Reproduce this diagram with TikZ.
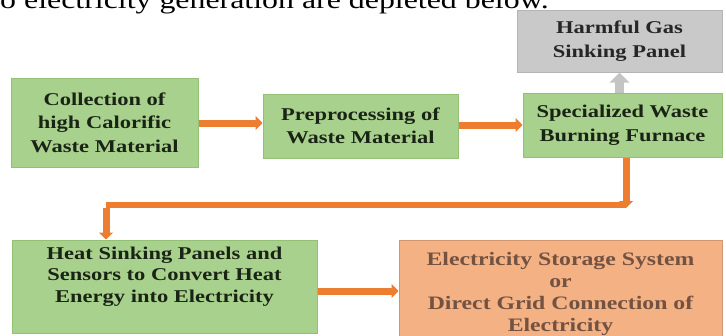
\documentclass[tikz,border=0pt]{standalone}
\usepackage{fontspec}
\setmainfont{Liberation Serif}[FakeStretch=1.25]
\usetikzlibrary{arrows.meta}
\definecolor{boxgreen}{HTML}{A9D18E}
\definecolor{boxgreenline}{HTML}{93C072}
\definecolor{greentext}{HTML}{1A2415}
\definecolor{boxgray}{HTML}{C9C9C9}
\definecolor{boxgrayline}{HTML}{B4B4B4}
\definecolor{arroworange}{HTML}{ED7D31}
\definecolor{boxsalmon}{HTML}{F4B183}
\definecolor{salmontext}{HTML}{735242}
\definecolor{arrowgray}{HTML}{C4C4C4}
\begin{document}
\begin{tikzpicture}[x=1pt,y=-1pt,
  boxbase/.style={align=center, inner sep=0pt, line width=1pt,
    font=\bfseries\fontsize{18}{23.5}\selectfont},
  greenbox/.style={boxbase, draw=boxgreenline, fill=boxgreen, text=greentext},
  graybox/.style={boxbase, draw=boxgrayline, fill=boxgray, text=black!85},
  salmonbox/.style={boxbase, draw=boxsalmon!85!black, fill=boxsalmon, text=salmontext,
    font=\bfseries\fontsize{19}{22}\selectfont},
  flow/.style={draw=arroworange, line width=7pt, -{Triangle[width=14pt,length=7pt]}},
  flowline/.style={draw=arroworange, line width=6pt},
  upflow/.style={draw=arrowgray, line width=9pt, -{Triangle[width=19pt,length=10pt]}}
]
\useasboundingbox (0,0) rectangle (726,335);

\node[anchor=base west, inner sep=0pt, font=\fontsize{25.5}{30}\selectfont] (intro) at (0,8)
  {o electricity generation are depleted below.};

\node[greenbox, minimum width=187, minimum height=89] (coll) at (104.5,122.5)
  {Collection of\\high Calorific\\Waste Material};
\node[greenbox, minimum width=195, minimum height=64] (prep) at (360.5,126)
  {Preprocessing of\\Waste Material};
\node[greenbox, minimum width=199, minimum height=64] (furn) at (622.5,125)
  {Specialized Waste\\Burning Furnace};
\node[graybox, minimum width=205, minimum height=62] (gas) at (619.5,41)
  {Harmful Gas\\Sinking Panel};
\node[greenbox, minimum width=305, minimum height=93, text depth=24pt,
  font=\bfseries\fontsize{18}{21.5}\selectfont] (heat) at (164.5,286.5)
  {Heat Sinking Panels and\\Sensors to Convert Heat\\Energy into Electricity};
\node[salmonbox, minimum width=323, minimum height=108] (elec) at (560.5,294)
  {Electricity Storage System\\or\\Direct Grid Connection of\\Electricity};

\coordinate (c1) at (626,208);
\coordinate (c2) at (106,205);

\draw[flow] (coll.east |- 0,123) -- (prep.west |- 0,123);
\draw[flow] (prep.east |- 0,125) -- (furn.west |- 0,125);
\draw[upflow] (furn.north -| gas.south) -- (gas.south);
\draw[flowline] (c1 |- 0,205) -- (c2);
\draw[flow] (furn.south -| c1) -- (c1);
\draw[flow] ([yshift=-3]c2) -- (heat.north -| c2);
\draw[flow] (heat.east |- 0,291) -- (elec.west |- 0,291);
\end{tikzpicture}
\end{document}
